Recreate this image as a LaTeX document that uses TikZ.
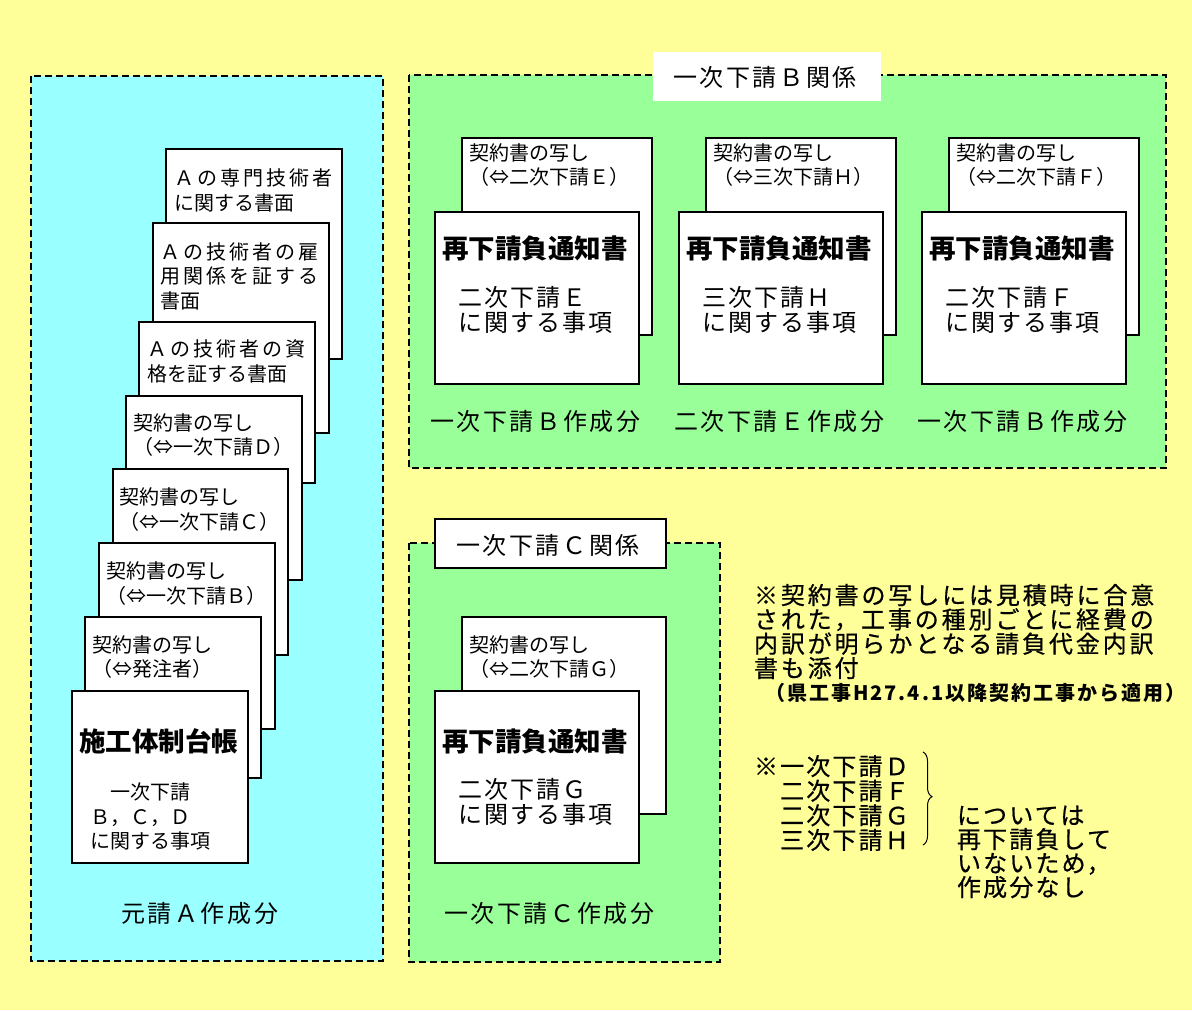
\documentclass[tikz,border=0pt]{standalone}
\usepackage{fontspec}
\setmainfont{Noto Sans CJK JP}
\usetikzlibrary{decorations.pathreplacing}
\definecolor{bgyellow}{HTML}{FFFF99}
\definecolor{grpcyan}{HTML}{99FFFF}
\definecolor{grpgreen}{HTML}{99FF99}
\newcommand\lsp[2]{{\addfontfeature{LetterSpace=#1}#2}}
\begin{document}
\begin{tikzpicture}[x=1pt,y=-1pt,
  docbox/.style={draw=black,line width=1.8pt,fill=white},
  grpbox/.style={draw=black,line width=1.6pt,dash pattern=on 7pt off 4pt},
  txt/.style={anchor=west,inner sep=0pt,outer sep=0pt,align=left},
  small/.style={txt,font=\fontsize{20}{24.5}\selectfont},
  mid/.style={txt,font=\fontsize{24}{24.3}\selectfont\addfontfeature{LetterSpace=9}},
  lab/.style={txt,font=\fontsize{24}{24}\selectfont\addfontfeature{LetterSpace=11}},
  ttl/.style={txt,font=\fontsize{26.5}{28}\selectfont\bfseries},
  note/.style={txt,font=\fontsize{24}{24.3}\selectfont\addfontfeature{LetterSpace=12,FakeBold=0.6}}]
\useasboundingbox (0,0) rectangle (1192,1010);
\fill[bgyellow] (0,0) rectangle (1192,1010);

% ---------- left group (cyan) ----------
\fill[grpcyan] (31,76) rectangle (383,961);
\draw[grpbox] (31,76) rectangle (383,961);

\draw[docbox] (166,149) rectangle (342,359);
\node[small] (t1) at (174,190.5) {\lsp{15}{Ａの専門技術者}\\に関する書面};
\draw[docbox] (153,223) rectangle (329,433);
\node[small] (t2) at (160,276) {\lsp{15}{Ａの技術者の雇}\\\lsp{15}{用関係を証する}\\書面};
\draw[docbox] (139,322) rectangle (315,483);
\node[small] (t3) at (147,361.5) {\lsp{15}{Ａの技術者の資}\\格を証する書面};
\draw[docbox] (126,396) rectangle (302,580);
\node[small] (t4) at (133,435) {契約書の写し\\（⇔一次下請Ｄ）};
\draw[docbox] (113,469) rectangle (288,655);
\node[small] (t5) at (119,509.5) {契約書の写し\\（⇔一次下請Ｃ）};
\draw[docbox] (99,543) rectangle (275,729);
\node[small] (t6) at (106,583.5) {契約書の写し\\（⇔一次下請Ｂ）};
\draw[docbox] (85,617) rectangle (261,778);
\node[small] (t7) at (92,657) {契約書の写し\\（⇔発注者）};
\draw[docbox] (72,691) rectangle (248,863);
\node[ttl] (t8) at (79,741) {施工体制台帳};
\node[small] (t9) at (90,816.5) {　一次下請\\Ｂ，Ｃ，Ｄ\\に関する事項};
\node[lab] (la) at (121,913) {元請Ａ作成分};

% ---------- group B (green) ----------
\fill[grpgreen] (409,75) rectangle (1166,468);
\draw[grpbox] (409,75) rectangle (1166,468);
\fill[white] (653,52) rectangle (881,101);
\node[lab] (tb) at (673,77) {一次下請Ｂ関係};

\foreach \dx/\who/\sub/\lbl [count=\i] in
  {0/二次下請Ｅ/二次下請Ｅ/一次下請Ｂ作成分,
   244/三次下請Ｈ/三次下請Ｈ/二次下請Ｅ作成分,
   487/二次下請Ｆ/二次下請Ｆ/一次下請Ｂ作成分}{
  \draw[docbox] (462+\dx,138) rectangle (652+\dx,335);
  \node[small,font=\fontsize{20}{24}\selectfont] (bk\i) at (469+\dx,165) {契約書の写し\\（⇔\who）};
  \draw[docbox] (435+\dx,212) rectangle (639+\dx,384);
  \node[ttl] (bt\i) at (442+\dx,248) {再下請負通知書};
  \node[mid] (bs\i) at (458+\dx,310) {\sub\\に関する事項};
  \node[lab] (bl\i) at (430+\dx,421) {\lbl};
}

% ---------- group C (green) ----------
\fill[grpgreen] (409,543) rectangle (720,962);
\draw[grpbox] (409,543) rectangle (720,962);
\draw[docbox,line width=1.6pt] (435,519) rectangle (666,568);
\node[lab] (tc) at (456,545) {一次下請Ｃ関係};
\draw[docbox] (462,617) rectangle (666,814);
\node[small,font=\fontsize{20}{24}\selectfont] (ck) at (469,657.5) {契約書の写し\\（⇔二次下請Ｇ）};
\draw[docbox] (435,691) rectangle (639,863);
\node[ttl] (ct) at (442,741) {再下請負通知書};
\node[mid] (cs) at (458,802) {二次下請Ｇ\\に関する事項};
\node[lab] (cl) at (444,913) {一次下請Ｃ作成分};

% ---------- notes ----------
\node[note] (n1) at (754,631.5) {※契約書の写しには見積時に合意\\された，工事の種別ごとに経費の\\内訳が明らかとなる請負代金内訳\\書も添付};
\node[txt,font=\fontsize{20}{22}\selectfont\bfseries\addfontfeature{LetterSpace=10}] (n2) at (765,693) {（県工事H27.4.1以降契約工事から適用）};

\node[txt,font=\fontsize{24}{24.6}\selectfont\addfontfeature{LetterSpace=9,FakeBold=0.6}] (n3) at (754,803) {※一次下請Ｄ\\　二次下請Ｆ\\　二次下請Ｇ\\　三次下請Ｈ};
\coordinate (brT) at (923,752);
\coordinate (brB) at (923,845);
\draw[line width=1pt,decorate,decoration={brace,amplitude=9pt,aspect=0.48}] (brT) -- (brB);
\node[txt,font=\fontsize{24}{24}\selectfont\addfontfeature{LetterSpace=9,FakeBold=0.6}] (n4) at (957,852) {については\\再下請負して\\いないため，\\作成分なし};
\end{tikzpicture}
\end{document}
